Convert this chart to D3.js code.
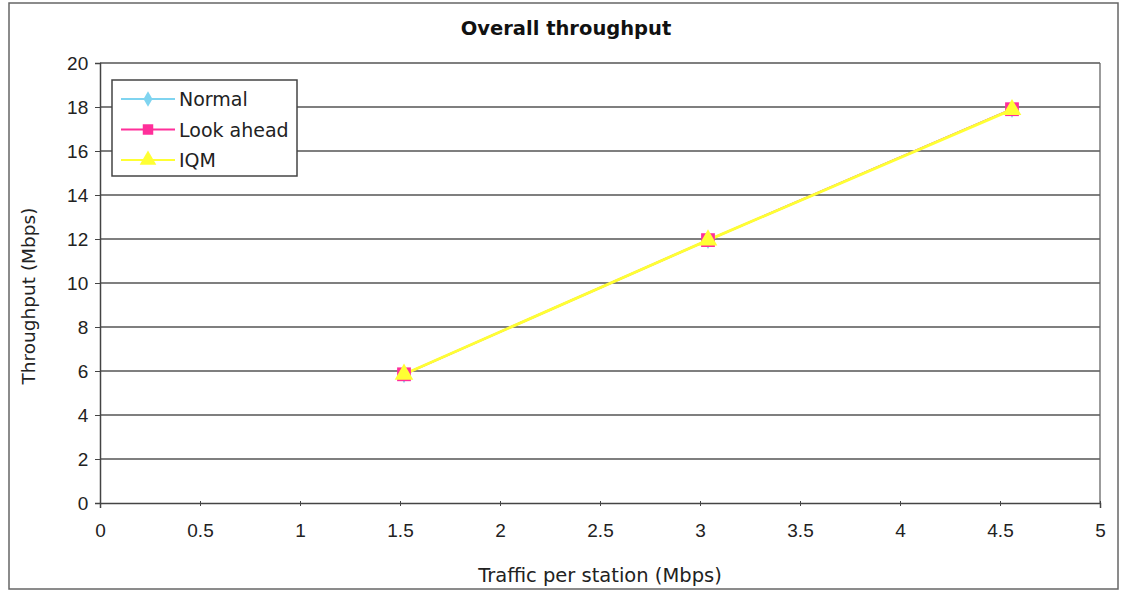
<!DOCTYPE html>
<html><head><meta charset="utf-8">
<script src="https://cdn.jsdelivr.net/npm/d3@7"></script>
<style>body{margin:0;background:#fff;}svg{display:block;font-family:"DejaVu Sans",Verdana,sans-serif;}</style>
</head><body>
<svg id="c" width="1122" height="592"></svg>
<script>
const seriesNames = ["Normal", "Look ahead", "IQM"];
const seriesColors = ["#7fd4f0", "#ff2f9a", "#ffff33"];
const xValues = [1.52, 3.04, 4.56];
const normalValues = [5.85, 11.95, 17.9];
const lookAheadValues = [5.85, 11.95, 17.9];
const iqmValues = [5.85, 11.95, 17.88];
const xTicks = [0, 0.5, 1, 1.5, 2, 2.5, 3, 3.5, 4, 4.5, 5];
const yTicks = [0, 2, 4, 6, 8, 10, 12, 14, 16, 18, 20];

const svg = d3.select("#c");
const L = 100, R = 1100, T = 63, B = 503;
const x = d3.scaleLinear().domain([0, 5]).range([L, R]);
const y = d3.scaleLinear().domain([0, 20]).range([B, T]);

// outer chart border
svg.append("rect").attr("x", 9).attr("y", 3).attr("width", 1109).attr("height", 586)
  .attr("fill", "none").attr("stroke", "#666").attr("stroke-width", 1.5);

// gridlines
svg.append("g").selectAll("line").data(yTicks.slice(1)).join("line")
  .attr("x1", L).attr("x2", R).attr("y1", d => y(d)).attr("y2", d => y(d))
  .attr("stroke", "#555").attr("stroke-width", 1.3);

// right border of plot
svg.append("line").attr("x1", R).attr("x2", R).attr("y1", T).attr("y2", B).attr("stroke", "#666").attr("stroke-width", 1.3);

// axes
const xAxis = d3.axisBottom(x).tickValues(xTicks).tickSize(5).tickFormat(d => String(d));
const gx = svg.append("g").attr("transform", `translate(0,${B})`).call(xAxis);
gx.select(".domain").attr("stroke", "#444").attr("stroke-width", 1.5);
gx.selectAll(".tick line").attr("stroke", "#444").attr("y1", -2).attr("y2", 3);
gx.selectAll("text").attr("font-size", 19).attr("fill", "#222").attr("dy", "1.35em");

const yAxis = d3.axisLeft(y).tickValues(yTicks).tickSize(5);
const gy = svg.append("g").attr("transform", `translate(${L},0)`).call(yAxis);
gy.select(".domain").attr("stroke", "#444").attr("stroke-width", 1.5);
gy.selectAll(".tick line").attr("stroke", "#444");
gy.selectAll("text").attr("font-size", 19).attr("fill", "#222").attr("dx", "-0.2em");

// title and axis labels
svg.append("text").attr("x", 566).attr("y", 35).attr("text-anchor", "middle")
  .attr("font-size", 19.5).attr("font-weight", "bold").attr("fill", "#111").text("Overall throughput");
svg.append("text").attr("x", 600).attr("y", 582).attr("text-anchor", "middle")
  .attr("font-size", 19.5).attr("fill", "#222").text("Traffic per station (Mbps)");
svg.append("text").attr("transform", "translate(35,296) rotate(-90)").attr("text-anchor", "middle")
  .attr("font-size", 18.5).attr("fill", "#222").text("Throughput (Mbps)");

const series = [normalValues, lookAheadValues, iqmValues];
const line = d3.line().x((d, i) => x(xValues[i])).y(d => y(d));
const symbols = [d3.symbolDiamond, d3.symbolSquare, d3.symbolTriangle];
const sizes = [90, 190, 150];
const widths = [2, 2, 2.8];

series.forEach((vals, si) => {
  svg.append("path").datum(vals).attr("d", line).attr("fill", "none")
    .attr("stroke", seriesColors[si]).attr("stroke-width", widths[si]);
});
series.forEach((vals, si) => {
  svg.append("g").selectAll("path").data(vals).join("path")
    .attr("transform", (d, i) => `translate(${x(xValues[i])},${y(d)})`)
    .attr("d", d3.symbol().type(symbols[si]).size(sizes[si]))
    .attr("fill", seriesColors[si]);
});

// legend
const lg = svg.append("g");
lg.append("rect").attr("x", 112).attr("y", 80).attr("width", 185).attr("height", 96)
  .attr("fill", "#fff").attr("stroke", "#444").attr("stroke-width", 1.5);
const legendSizes = [70, 110, 120];
seriesNames.forEach((n, i) => {
  const ly = 99 + i * 30.5;
  lg.append("line").attr("x1", 121).attr("x2", 175).attr("y1", ly).attr("y2", ly)
    .attr("stroke", seriesColors[i]).attr("stroke-width", 2);
  lg.append("path").attr("transform", `translate(148,${ly})`)
    .attr("d", d3.symbol().type(symbols[i]).size(legendSizes[i])).attr("fill", seriesColors[i]);
  lg.append("text").attr("x", 179).attr("y", ly + 7).attr("font-size", 19).attr("fill", "#222").text(n);
});
</script>
</body></html>
